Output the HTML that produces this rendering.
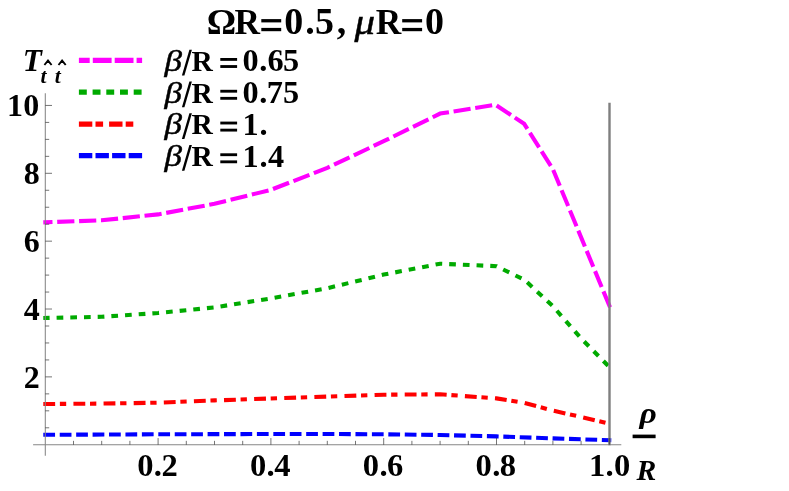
<!DOCTYPE html>
<html><head><meta charset="utf-8"><title>plot</title>
<style>
html,body{margin:0;padding:0;background:#fff;}
body{width:789px;height:491px;overflow:hidden;position:relative;}
svg{position:absolute;left:0;top:0;will-change:transform;}
text{font-family:"Liberation Serif",serif;font-weight:bold;fill:#000;}
</style></head><body>
<svg width="789" height="491" viewBox="0 0 789 491">
<rect width="789" height="491" fill="#fff"/>
<g fill="none" stroke-width="4.1" stroke-linejoin="miter">
<path d="M43.30,434.81 L158.10,434.30 L270.90,434.00 L327.30,434.00 L383.70,434.30 L440.10,435.00 L496.50,436.40 L552.90,438.40 L611.30,440.26" stroke="#0000ff" stroke-dasharray="11.75 4.68"/>
<path d="M43.30,404.01 L101.70,403.60 L158.10,402.70 L214.50,400.40 L270.90,398.50 L327.30,396.60 L383.70,394.70 L440.10,394.30 L496.50,398.40 L524.70,403.00 L552.90,410.60 L581.10,416.90 L611.24,424.17" stroke="#ff0000" stroke-dasharray="11.85 4.72 6.33 7.23"/>
<path d="M43.30,318.04 L101.70,316.80 L158.10,313.00 L214.50,307.40 L270.90,298.40 L327.30,288.20 L383.70,274.60 L440.10,263.70 L496.50,266.20 L524.70,280.00 L552.90,306.20 L581.10,338.40 L610.70,368.42" stroke="#00aa00" stroke-dasharray="6.7 7.0" stroke-dashoffset="0.4"/>
<path d="M43.30,222.37 L101.70,220.30 L158.10,214.40 L214.50,203.80 L270.90,189.80 L327.30,167.90 L383.70,141.20 L440.10,113.60 L495.37,104.70 L524.14,123.80 L552.90,169.20 L610.06,307.35" stroke="#ff00ff" stroke-dasharray="17.2 4.7" stroke-dashoffset="8.0"/>
</g>
<g stroke="#868686" stroke-width="1.05" fill="none">
<line x1="33.1" y1="444.75" x2="621.3" y2="444.75"/>
<line x1="45.3" y1="93.2" x2="45.3" y2="455.8"/>
</g>
<line x1="609.5" y1="102.7" x2="609.5" y2="445.2" stroke="#7f7f7f" stroke-width="2.4"/>
<g stroke="#2a2a2a" stroke-width="0.65" fill="none">
<line x1="73.50" y1="444.75" x2="73.50" y2="440.85"/>
<line x1="101.70" y1="444.75" x2="101.70" y2="440.85"/>
<line x1="129.90" y1="444.75" x2="129.90" y2="440.85"/>
<line x1="158.10" y1="444.75" x2="158.10" y2="438.05"/>
<line x1="186.30" y1="444.75" x2="186.30" y2="440.85"/>
<line x1="214.50" y1="444.75" x2="214.50" y2="440.85"/>
<line x1="242.70" y1="444.75" x2="242.70" y2="440.85"/>
<line x1="270.90" y1="444.75" x2="270.90" y2="438.05"/>
<line x1="299.10" y1="444.75" x2="299.10" y2="440.85"/>
<line x1="327.30" y1="444.75" x2="327.30" y2="440.85"/>
<line x1="355.50" y1="444.75" x2="355.50" y2="440.85"/>
<line x1="383.70" y1="444.75" x2="383.70" y2="438.05"/>
<line x1="411.90" y1="444.75" x2="411.90" y2="440.85"/>
<line x1="440.10" y1="444.75" x2="440.10" y2="440.85"/>
<line x1="468.30" y1="444.75" x2="468.30" y2="440.85"/>
<line x1="496.50" y1="444.75" x2="496.50" y2="438.05"/>
<line x1="524.70" y1="444.75" x2="524.70" y2="440.85"/>
<line x1="552.90" y1="444.75" x2="552.90" y2="440.85"/>
<line x1="581.10" y1="444.75" x2="581.10" y2="440.85"/>
<line x1="609.30" y1="444.75" x2="609.30" y2="438.05"/>
<line x1="45.3" y1="427.79" x2="49.20" y2="427.79"/>
<line x1="45.3" y1="410.82" x2="49.20" y2="410.82"/>
<line x1="45.3" y1="393.86" x2="49.20" y2="393.86"/>
<line x1="45.3" y1="376.89" x2="52.00" y2="376.89"/>
<line x1="45.3" y1="359.93" x2="49.20" y2="359.93"/>
<line x1="45.3" y1="342.96" x2="49.20" y2="342.96"/>
<line x1="45.3" y1="326.00" x2="49.20" y2="326.00"/>
<line x1="45.3" y1="309.03" x2="52.00" y2="309.03"/>
<line x1="45.3" y1="292.06" x2="49.20" y2="292.06"/>
<line x1="45.3" y1="275.10" x2="49.20" y2="275.10"/>
<line x1="45.3" y1="258.13" x2="49.20" y2="258.13"/>
<line x1="45.3" y1="241.17" x2="52.00" y2="241.17"/>
<line x1="45.3" y1="224.21" x2="49.20" y2="224.21"/>
<line x1="45.3" y1="207.24" x2="49.20" y2="207.24"/>
<line x1="45.3" y1="190.28" x2="49.20" y2="190.28"/>
<line x1="45.3" y1="173.31" x2="52.00" y2="173.31"/>
<line x1="45.3" y1="156.35" x2="49.20" y2="156.35"/>
<line x1="45.3" y1="139.38" x2="49.20" y2="139.38"/>
<line x1="45.3" y1="122.42" x2="49.20" y2="122.42"/>
<line x1="45.3" y1="105.45" x2="52.00" y2="105.45"/>
</g>
<g fill="none" stroke-width="5.2">
<path d="M78.9,60.3 H142.1" stroke="#ff00ff" stroke-dasharray="18.8 3.1" stroke-dashoffset="8"/>
<path d="M78.9,92.2 H142.1" stroke="#00aa00" stroke-dasharray="7.9 5.8"/>
<path d="M78.9,124.1 H133.6" stroke="#ff0000" stroke-dasharray="13.4 3.2 7.6 6"/>
<path d="M78.9,155.6 H142.1" stroke="#0000ff" stroke-dasharray="13.4 3.2"/>
</g>
<g fill="#000">
<text x="206.73" y="34.00" font-size="36.7">Ω</text>
<text x="234.55" y="34.00" font-size="35.3">R</text>
<rect x="261.30" y="19.10" width="19.9" height="3.3"/><rect x="261.30" y="27.90" width="19.9" height="3.3"/>
<text x="284.16" y="34.00" font-size="38">0</text>
<text x="305.18" y="34.00" font-size="38">.</text>
<text x="314.88" y="34.00" font-size="38">5</text>
<text x="336.72" y="34.00" font-size="38">,</text>
<text stroke="#000" stroke-width="0.45" transform="translate(354.41,34.10) scale(1.17,1)" font-size="35" style="font-style:italic;font-weight:normal">μ</text>
<text x="375.85" y="34.00" font-size="35.3">R</text>
<rect x="402.20" y="19.10" width="19.9" height="3.3"/><rect x="402.20" y="27.90" width="19.9" height="3.3"/>
<text x="425.06" y="34.00" font-size="38">0</text>
<text stroke="#000" stroke-width="0.4" transform="translate(164.60,70.80) scale(1.2,1)" font-size="29.3" style="font-style:italic;font-weight:normal">β</text>
<polygon points="181.9,75.50 184.4,75.50 191.9,49.70 189.4,49.70"/>
<text x="191.51" y="70.70" font-size="29.5">R</text>
<rect x="220.30" y="58.00" width="16.8" height="2.85"/><rect x="220.30" y="65.10" width="16.8" height="2.85"/>
<text x="242.53" y="71.20" font-size="32.3">0</text>
<text x="259.21" y="71.20" font-size="32.3">.</text>
<text x="267.43" y="71.20" font-size="32.3">6</text>
<text x="283.01" y="71.20" font-size="32.3">5</text>
<text stroke="#000" stroke-width="0.4" transform="translate(164.60,102.60) scale(1.2,1)" font-size="29.3" style="font-style:italic;font-weight:normal">β</text>
<polygon points="181.9,107.30 184.4,107.30 191.9,81.50 189.4,81.50"/>
<text x="191.51" y="102.50" font-size="29.5">R</text>
<rect x="220.30" y="89.80" width="16.8" height="2.85"/><rect x="220.30" y="96.90" width="16.8" height="2.85"/>
<text x="242.53" y="103.00" font-size="32.3">0</text>
<text x="259.31" y="103.00" font-size="32.3">.</text>
<text x="266.78" y="103.00" font-size="32.3">7</text>
<text x="283.01" y="103.00" font-size="32.3">5</text>
<text stroke="#000" stroke-width="0.4" transform="translate(164.60,134.40) scale(1.2,1)" font-size="29.3" style="font-style:italic;font-weight:normal">β</text>
<polygon points="181.9,139.10 184.4,139.10 191.9,113.30 189.4,113.30"/>
<text x="191.51" y="134.30" font-size="29.5">R</text>
<rect x="220.30" y="121.60" width="16.8" height="2.85"/><rect x="220.30" y="128.70" width="16.8" height="2.85"/>
<text x="242.52" y="134.80" font-size="32.3">1</text>
<text x="259.41" y="134.80" font-size="32.3">.</text>
<text stroke="#000" stroke-width="0.4" transform="translate(164.60,166.10) scale(1.2,1)" font-size="29.3" style="font-style:italic;font-weight:normal">β</text>
<polygon points="181.9,170.80 184.4,170.80 191.9,145.00 189.4,145.00"/>
<text x="191.51" y="166.00" font-size="29.5">R</text>
<rect x="220.30" y="153.30" width="16.8" height="2.85"/><rect x="220.30" y="160.40" width="16.8" height="2.85"/>
<text x="242.52" y="166.50" font-size="32.3">1</text>
<text x="259.41" y="166.50" font-size="32.3">.</text>
<text x="268.08" y="166.50" font-size="32.3">4</text>
<text x="137.18" y="476.30" font-size="32.6">0</text>
<text x="153.78" y="476.30" font-size="32.6">.</text>
<text x="161.38" y="476.30" font-size="32.6">2</text>
<text x="249.98" y="476.30" font-size="32.6">0</text>
<text x="266.58" y="476.30" font-size="32.6">.</text>
<text x="274.19" y="476.30" font-size="32.6">4</text>
<text x="362.78" y="476.30" font-size="32.6">0</text>
<text x="379.38" y="476.30" font-size="32.6">.</text>
<text x="386.98" y="476.30" font-size="32.6">6</text>
<text x="475.58" y="476.30" font-size="32.6">0</text>
<text x="492.18" y="476.30" font-size="32.6">.</text>
<text x="499.78" y="476.30" font-size="32.6">8</text>
<text x="588.95" y="476.30" font-size="32.6">1</text>
<text x="605.58" y="476.30" font-size="32.6">.</text>
<text x="613.88" y="476.30" font-size="32.6">0</text>
<text x="23.64" y="387.79" font-size="32">2</text>
<text x="23.64" y="319.93" font-size="32">4</text>
<text x="23.64" y="252.07" font-size="32">6</text>
<text x="23.64" y="184.21" font-size="32">8</text>
<text x="7.04" y="116.35" font-size="32">1</text>
<text x="23.24" y="116.35" font-size="32">0</text>
<text x="22.72" y="70.70" font-size="31.2" style="font-style:italic">T</text>
<text x="40.45" y="82.90" font-size="21.6" style="font-style:italic">t</text>
<text x="54.65" y="82.90" font-size="21.6" style="font-style:italic">t</text>
<text transform="translate(639.51,423.20) scale(1.12,1)" font-size="30" style="font-style:italic">ρ</text>
<text x="636.60" y="480.40" font-size="29.7" style="font-style:italic">R</text>
</g>
<path d="M44.4,65.0 L48,60.6 L51.6,65.0 M58.5,65.0 L62.1,60.6 L65.7,65.0" stroke="#000" stroke-width="1.9" fill="none" stroke-linejoin="miter"/>
<rect x="632.6" y="434.6" width="23" height="3.6" fill="#000"/>
</svg>
</body></html>
